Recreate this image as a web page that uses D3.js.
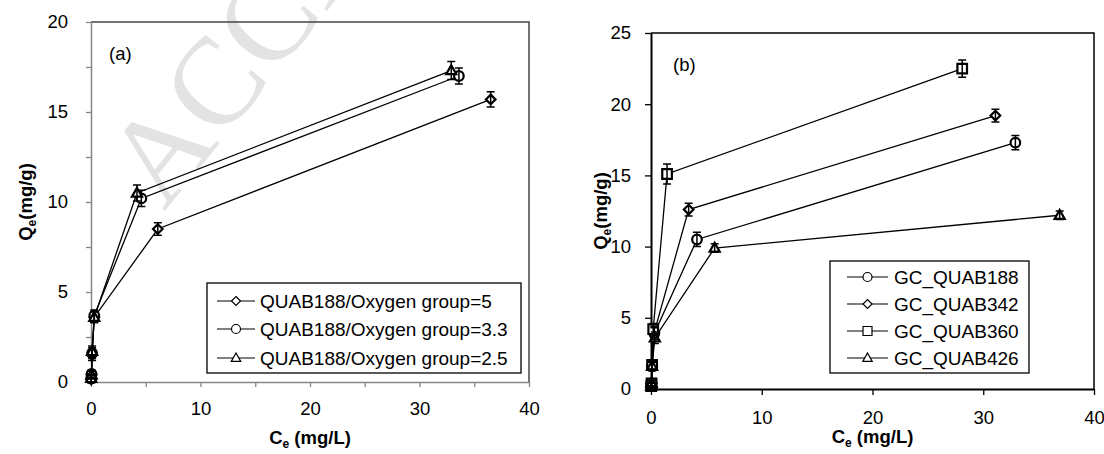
<!DOCTYPE html>
<html>
<head>
<meta charset="utf-8">
<script src="https://cdn.jsdelivr.net/npm/d3@7"></script>
<style>
  body { margin: 0; background: #fff; }
  svg { display: block; font-family: 'Liberation Sans', Arial, sans-serif; }
</style>
</head>
<body>
<svg id="graph"></svg>
<script>
// panel (a): QUAB188 / oxygen group ratio
const ceA5 = [0.02, 0.05, 0.1, 0.3, 6.1, 36.5]
const qeA5 = [0.15, 0.4, 1.5, 3.6, 8.5, 15.7]
const erA5 = [0.2, 0.2, 0.3, 0.3, 0.35, 0.42]
const ceA33 = [0.02, 0.05, 0.1, 0.3, 4.6, 33.6]
const qeA33 = [0.2, 0.45, 1.6, 3.7, 10.2, 17.0]
const erA33 = [0.2, 0.2, 0.3, 0.3, 0.45, 0.45]
const ceA25 = [0.02, 0.05, 0.1, 0.3, 4.2, 32.9]
const qeA25 = [0.2, 0.4, 1.7, 3.6, 10.5, 17.3]
const erA25 = [0.2, 0.2, 0.3, 0.3, 0.45, 0.5]
const namesA = ['QUAB188/Oxygen group=5', 'QUAB188/Oxygen group=3.3', 'QUAB188/Oxygen group=2.5']

// panel (b): GC_QUAB series
const ceB188 = [0.02, 0.05, 0.1, 0.3, 4.15, 32.9]
const qeB188 = [0.2, 0.4, 1.6, 3.9, 10.5, 17.3]
const erB188 = [0.2, 0.2, 0.3, 0.4, 0.5, 0.5]
const ceB342 = [0.02, 0.05, 0.1, 0.3, 3.4, 31.1]
const qeB342 = [0.2, 0.4, 1.6, 4.0, 12.6, 19.2]
const erB342 = [0.2, 0.2, 0.3, 0.4, 0.45, 0.45]
const ceB360 = [0.02, 0.05, 0.1, 0.2, 1.45, 28.1]
const qeB360 = [0.2, 0.4, 1.7, 4.2, 15.1, 22.5]
const erB360 = [0.2, 0.2, 0.3, 0.4, 0.7, 0.6]
const ceB426 = [0.02, 0.05, 0.1, 0.35, 5.75, 36.9]
const qeB426 = [0.2, 0.4, 1.6, 3.6, 9.9, 12.2]
const erB426 = [0.2, 0.2, 0.3, 0.4, 0.3, 0.3]
const namesB = ['GC_QUAB188', 'GC_QUAB342', 'GC_QUAB360', 'GC_QUAB426']

const zip = (ce, qe, er) => ce.map((c, i) => ({ x: c, y: qe[i], e: er[i] }))

const svg = d3.select('#graph').attr('width', 1104).attr('height', 454)

// watermark behind the plots
svg.append('text')
  .attr('transform', 'translate(164,212) rotate(-51)')
  .style('font-family', "'Liberation Serif', 'Times New Roman', serif")
  .style('font-size', '124px')
  .style('fill', '#e3e3e3')
  .text('ACCEPTED')

const shapePath = (type, r) => {
  if (type === 'circle') return `M${-r},0A${r},${r} 0 1,0 ${r},0A${r},${r} 0 1,0 ${-r},0Z`
  if (type === 'square') return `M${-r},${-r}H${r}V${r}H${-r}Z`
  if (type === 'diamond') return `M0,${-r}L${r},0L0,${r}L${-r},0Z`
  // triangle, flat base
  return `M0,${-r * 1.1}L${r * 1.05},${r * 0.75}L${-r * 1.05},${r * 0.75}Z`
}

const drawPanel = (cfg) => {
  const { left, right, top, bottom, yMax, yStep, xStep, axisColor, borderColor, axisWidth } = cfg
  const xScale = d3.scaleLinear().domain([0, 40]).range([left, right])
  const yScale = d3.scaleLinear().domain([0, yMax]).range([bottom, top])
  const g = svg.append('g')

  // top / right frame
  g.append('path')
    .attr('d', `M${left},${top}H${right}V${bottom}`)
    .attr('fill', 'none')
    .attr('stroke', borderColor)
    .attr('stroke-width', cfg.borderWidth)

  const axisX = d3.axisBottom(xScale)
    .tickValues(d3.range(0, 40.01, xStep))
    .tickFormat((d) => (d % 10 === 0 ? d : ''))
    .tickSize(cfg.tick)
    .tickSizeOuter(0)
    .tickPadding(cfg.xPad)
  const axisY = d3.axisLeft(yScale)
    .tickValues(d3.range(0, yMax + 0.01, yStep))
    .tickFormat((d) => (d % 5 === 0 ? d : ''))
    .tickSize(cfg.tick)
    .tickSizeOuter(0)
    .tickPadding(cfg.yPad)

  const gx = g.append('g').attr('transform', `translate(0,${bottom})`).call(axisX)
  const gy = g.append('g').attr('transform', `translate(${left},0)`).call(axisY)
  ;[gx, gy].forEach((a) => {
    a.select('.domain').attr('stroke', axisColor).attr('stroke-width', axisWidth)
    a.selectAll('.tick line').attr('stroke', axisColor).attr('stroke-width', 1.3)
    a.selectAll('.tick text')
      .attr('fill', '#000')
      .style('font-size', '18.5px')
      .style('font-family', "'Liberation Sans', Arial, sans-serif")
  })

  // axis titles
  const xt = g.append('text')
    .attr('x', (left + right) / 2)
    .attr('y', cfg.xTitleY)
    .attr('text-anchor', 'middle')
    .style('font-weight', 'bold')
    .style('font-size', '18.5px')
  xt.append('tspan').text('C')
  xt.append('tspan').text('e').style('font-size', '12px').attr('dy', 4)
  xt.append('tspan').text(' (mg/L)').attr('dy', -4)

  const yt = g.append('text')
    .attr('transform', `translate(${cfg.yTitleX},${(top + bottom) / 2}) rotate(-90)`)
    .attr('text-anchor', 'middle')
    .style('font-weight', 'bold')
    .style('font-size', '18.5px')
  yt.append('tspan').text('Q')
  yt.append('tspan').text('e').style('font-size', '12px').attr('dy', 4)
  yt.append('tspan').text('(mg/g)').attr('dy', -4)

  g.append('text')
    .attr('x', cfg.labelX)
    .attr('y', cfg.labelY)
    .style('font-size', '18.5px')
    .text(cfg.label)

  const line = d3.line().x((d) => xScale(d.x)).y((d) => yScale(d.y))

  cfg.series.forEach((s) => {
    g.append('path')
      .datum(s.data)
      .attr('fill', 'none')
      .attr('stroke', '#000')
      .attr('stroke-width', 1.3)
      .attr('d', line)
  })
  cfg.series.forEach((s) => {
    g.append('g').selectAll('path').data(s.data).enter()
      .append('path')
      .attr('transform', (d) => `translate(${xScale(d.x)},${yScale(d.y)})`)
      .attr('d', shapePath(s.shape, 4.8))
      .attr('fill', '#fff')
      .attr('stroke', '#000')
      .attr('stroke-width', 2.2)
  })
  cfg.series.forEach((s) => {
    const eb = g.append('g').attr('stroke', '#000').attr('stroke-width', 1.5)
    s.data.forEach((d) => {
      const cx = xScale(d.x)
      const y0 = yScale(d.y - d.e)
      const y1 = yScale(d.y + d.e)
      eb.append('path').attr('d', `M${cx},${y0}V${y1}M${cx - 4},${y0}H${cx + 4}M${cx - 4},${y1}H${cx + 4}`)
    })
  })

  // legend
  const lg = cfg.legend
  g.append('rect')
    .attr('x', lg.x0).attr('y', lg.y0)
    .attr('width', lg.x1 - lg.x0).attr('height', lg.y1 - lg.y0)
    .attr('fill', '#fff')
    .attr('stroke', '#000')
    .attr('stroke-width', 1.3)
  lg.order.forEach((si, i) => {
    const s = cfg.series[si]
    const cy = lg.rows[i]
    g.append('line')
      .attr('x1', lg.lx0).attr('x2', lg.lx1)
      .attr('y1', cy).attr('y2', cy)
      .attr('stroke', '#000').attr('stroke-width', 1.2)
    g.append('path')
      .attr('transform', `translate(${(lg.lx0 + lg.lx1) / 2},${cy})`)
      .attr('d', shapePath(s.shape, 4.5))
      .attr('fill', '#fff')
      .attr('stroke', '#000')
      .attr('stroke-width', 1.2)
    g.append('text')
      .attr('x', lg.tx)
      .attr('y', cy + 7)
      .style('font-size', '19px')
      .text(s.name)
  })
}

drawPanel({
  left: 91, right: 529, top: 22, bottom: 382,
  yMax: 20, yStep: 2.5, xStep: 5,
  axisColor: '#868686', borderColor: '#454545', axisWidth: 1.5, borderWidth: 1.5,
  tick: 5, xPad: 15, yPad: 18,
  xTitleY: 444, yTitleX: 32,
  label: '(a)', labelX: 109, labelY: 60,
  series: [
    { name: namesA[0], shape: 'diamond', data: zip(ceA5, qeA5, erA5) },
    { name: namesA[1], shape: 'circle', data: zip(ceA33, qeA33, erA33) },
    { name: namesA[2], shape: 'triangle', data: zip(ceA25, qeA25, erA25) }
  ],
  legend: { x0: 207, x1: 521, y0: 283, y1: 373, rows: [301, 329, 358], order: [0, 1, 2], lx0: 217, lx1: 255, tx: 260 }
})

drawPanel({
  left: 651, right: 1094, top: 33, bottom: 389,
  yMax: 25, yStep: 5, xStep: 10,
  axisColor: '#000', borderColor: '#000', axisWidth: 2, borderWidth: 1.5,
  tick: 6, xPad: 16, yPad: 14,
  xTitleY: 443, yTitleX: 607,
  label: '(b)', labelX: 673, labelY: 71,
  series: [
    { name: namesB[0], shape: 'circle', data: zip(ceB188, qeB188, erB188) },
    { name: namesB[1], shape: 'diamond', data: zip(ceB342, qeB342, erB342) },
    { name: namesB[2], shape: 'square', data: zip(ceB360, qeB360, erB360) },
    { name: namesB[3], shape: 'triangle', data: zip(ceB426, qeB426, erB426) }
  ],
  legend: { x0: 830, x1: 1029, y0: 261, y1: 373, rows: [277, 304, 331, 358], order: [0, 1, 2, 3], lx0: 847, lx1: 888, tx: 894 }
})
</script>
</body>
</html>
